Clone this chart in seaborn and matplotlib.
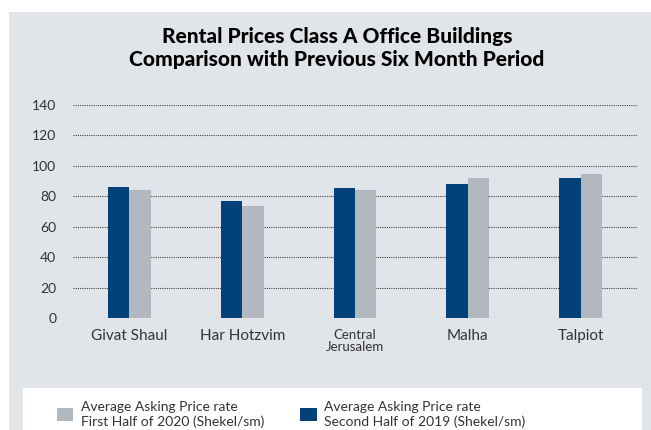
import pandas as pd
import matplotlib.pyplot as plt
import seaborn as sns
from matplotlib.patches import Rectangle

barrios = ['Givat Shaul', 'Har Hotzvim', 'Central\nJerusalem', 'Malha', 'Talpiot']
segundo_2019 = [86, 77, 85.4, 88, 92]
primero_2020 = [84, 73.6, 84, 92, 94.6]
etiqueta_2019 = 'Average Asking Price rate\nSecond Half of 2019 (Shekel/sm)'
etiqueta_2020 = 'Average Asking Price rate\nFirst Half of 2020 (Shekel/sm)'

df = pd.DataFrame({
    'barrio': barrios * 2,
    'precio': segundo_2019 + primero_2020,
    'periodo': [etiqueta_2019] * len(barrios) + [etiqueta_2020] * len(barrios),
})

sns.set_style('white')
plt.rcParams['font.family'] = ['Lato', 'DejaVu Sans']

fig = plt.figure(figsize=(6.51, 4.30), dpi=100)
fig.patches.append(Rectangle((9 / 651, 0), 1, 1 - 12 / 430, transform=fig.transFigure,
                             facecolor='#e1e4e8', edgecolor='none', zorder=-3))
fig.patches.append(Rectangle((23 / 651, 0), (642 - 23) / 651, 42 / 430, transform=fig.transFigure,
                             facecolor='white', edgecolor='none', zorder=-2))

ax = fig.add_axes([73 / 651, 0.2598, (637 - 73) / 651, 0.4967])
ax.set_facecolor('none')
sns.barplot(data=df, x='barrio', y='precio', hue='periodo',
            palette={etiqueta_2019: '#02417a', etiqueta_2020: '#b1b8bf'},
            width=0.38, saturation=1, linewidth=0, edgecolor='none', ax=ax)

ax.set_ylim(0, 140)
ax.set_yticks(range(0, 141, 20))
ax.yaxis.grid(True, linestyle=(0, (1, 1)), color='#444444', linewidth=0.8)
ax.set_axisbelow(True)
sns.despine(ax=ax, left=True, bottom=True)
ax.tick_params(axis='both', length=0, colors='#333333', labelsize=10)
ax.tick_params(axis='y', pad=12)
ax.tick_params(axis='x', pad=8, labelsize=11)
for t in ax.get_xticklabels():
    t.set_linespacing(0.95)
    if '\n' in t.get_text():
        t.set_fontsize(9.5)
ax.set_xlabel('')
ax.set_ylabel('')

handles, labels = ax.get_legend_handles_labels()
ax.get_legend().remove()
fig.legend(handles[::-1], labels[::-1], ncol=2, frameon=False, loc='lower left',
           bbox_to_anchor=(44 / 651, -0.024), fontsize=10, labelcolor='#333333',
           handlelength=1.22, handleheight=1.1, handletextpad=0.55, columnspacing=2.55)

fig.text(337 / 651, 1 - 48 / 430, 'Rental Prices Class A Office Buildings\nComparison with Previous Six Month Period',
         ha='center', va='center', fontsize=15, fontweight='black', color='black', linespacing=1.22)

fig.savefig('out.png', dpi=100)
